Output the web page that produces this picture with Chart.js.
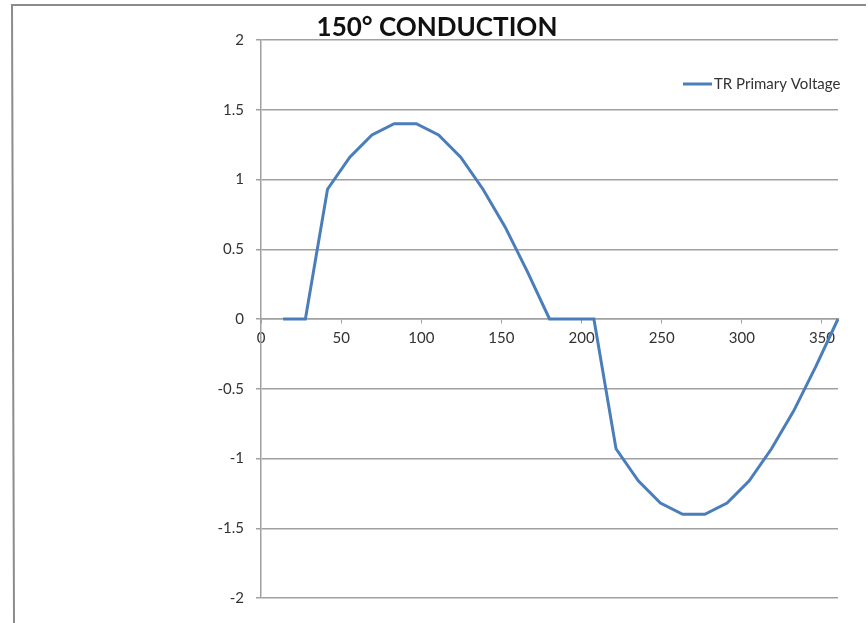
<!DOCTYPE html>
<html>
<head>
<meta charset="utf-8">
<script src="https://cdn.jsdelivr.net/npm/chart.js@4"></script>
<style>
  html, body { margin: 0; padding: 0; background: #fff; }
  #wrap { position: relative; width: 868px; height: 623px; }
</style>
</head>
<body>
<div id="wrap"><canvas id="chart" width="868" height="623"></canvas></div>
<script>
const chartTitle = "150° CONDUCTION";
const seriesName = "TR Primary Voltage";

// angle in degrees
const angles = [
  13.8, 27.7, 41.5, 55.4, 69.2, 83.1, 96.9, 110.8, 124.6, 138.5, 152.3, 166.2, 180,
  193.8, 207.7, 221.5, 235.4, 249.2, 263.1, 276.9, 290.8, 304.6, 318.5, 332.3, 346.2, 360,
];
const voltage = [
  0, 0, 0.93, 1.16, 1.32, 1.4, 1.4, 1.32, 1.16, 0.93, 0.66, 0.34, 0,
  0, 0, -0.93, -1.16, -1.32, -1.4, -1.4, -1.32, -1.16, -0.93, -0.66, -0.34, 0,
];
const xTicks = [0, 50, 100, 150, 200, 250, 300, 350];
const yTicks = [-2, -1.5, -1, -0.5, 0, 0.5, 1, 1.5, 2];

const lineColor = "#4a7ebb";
const gridColor = "#a0a0a0";
const labelColor = "#333";
const fontFamily = "Lato, 'Open Sans', sans-serif";

const decorations = {
  id: "decorations",
  beforeDraw(chart) {
    const ctx = chart.ctx;
    ctx.save();
    ctx.fillStyle = "#fff";
    ctx.fillRect(0, 0, chart.width, chart.height);
    // frame of the pasted chart (top and left edges)
    ctx.strokeStyle = "#8c8c8c";
    ctx.lineWidth = 2;
    ctx.beginPath();
    ctx.moveTo(866, 5);
    ctx.lineTo(12, 5);
    ctx.lineTo(14, 623);
    ctx.stroke();
    ctx.restore();
  },
  afterDraw(chart) {
    const ctx = chart.ctx;
    const area = chart.chartArea;
    ctx.save();
    ctx.fillStyle = "#111";
    ctx.font = `bold 26px ${fontFamily}`;
    ctx.textAlign = "center";
    ctx.textBaseline = "middle";
    ctx.fillText(chartTitle, 437, 28);

    // legend inside the plot, top right
    const ly = area.top + 44;
    ctx.strokeStyle = lineColor;
    ctx.lineWidth = 3;
    ctx.beginPath();
    ctx.moveTo(683, ly);
    ctx.lineTo(712, ly);
    ctx.stroke();
    ctx.fillStyle = labelColor;
    ctx.font = `15px ${fontFamily}`;
    ctx.textAlign = "left";
    ctx.fillText(seriesName, 714, ly);
    ctx.restore();
  },
};

new Chart(document.getElementById("chart"), {
  type: "line",
  data: {
    datasets: [{
      label: seriesName,
      data: angles.map((a, i) => ({ x: a, y: voltage[i] })),
      borderColor: lineColor,
      backgroundColor: lineColor,
      borderWidth: 3,
      pointRadius: 0,
      tension: 0,
      clip: false,
    }],
  },
  options: {
    responsive: false,
    animation: false,
    devicePixelRatio: 1,
    layout: { padding: { top: 40, right: 30, bottom: 25, left: 0 } },
    plugins: {
      legend: { display: false },
      title: { display: false },
      tooltip: { enabled: false },
    },
    scales: {
      x: {
        type: "linear",
        position: { y: 0 },
        min: 0,
        max: 360,
        afterBuildTicks: (scale) => { scale.ticks = xTicks.map((v) => ({ value: v })); },
        ticks: {
          color: labelColor,
          font: { family: fontFamily, size: 15 },
          padding: 6,
          maxRotation: 0,
          callback: (v) => String(v),
        },
        grid: { drawOnChartArea: false, drawTicks: true, tickLength: 4, color: gridColor },
        border: { color: gridColor, width: 1.5 },
      },
      y: {
        type: "linear",
        min: -2,
        max: 2,
        afterBuildTicks: (scale) => { scale.ticks = yTicks.map((v) => ({ value: v })); },
        afterFit: (scale) => { scale.width = 261; },
        ticks: {
          color: labelColor,
          font: { family: fontFamily, size: 15 },
          padding: 12,
          callback: (v) => String(v),
        },
        grid: { color: gridColor, lineWidth: 1.5, tickLength: 5 },
        border: { color: gridColor, width: 1.5 },
      },
    },
  },
  plugins: [decorations],
});
</script>
</body>
</html>
